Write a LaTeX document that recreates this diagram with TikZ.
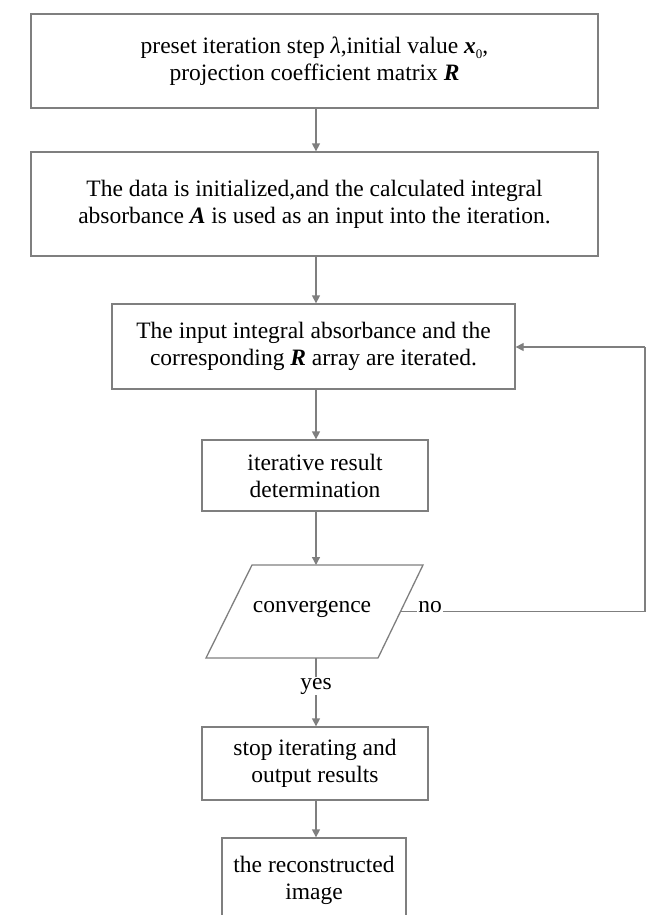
\documentclass[tikz,border=0pt]{standalone}
\usepackage{fontspec}
\setmainfont{Liberation Serif}
\usetikzlibrary{arrows.meta}
\definecolor{lc}{HTML}{7F7F7F}
\newcommand{\bi}[1]{\textbf{\textit{#1}}}
\begin{document}
\begin{tikzpicture}[x=1pt,y=-1pt,
  box/.style={draw=lc,line width=1.3pt,align=center,inner sep=0pt,font=\fontsize{23.5}{27}\selectfont},
  conn/.style={draw=lc,line width=1.3pt,-{Triangle[length=8pt,width=8pt]}},
  plain/.style={draw=lc,line width=1.3pt},
  lbl/.style={font=\fontsize{23.5}{27}\selectfont,inner sep=1pt}]
\useasboundingbox (0,0) rectangle (647,915);
\begin{scope}
\clip (0,0) rectangle (647,915);
\node[box,minimum width=567pt,minimum height=94pt] (b1) at (314.5,61)
  {preset iteration step \textit{λ},initial value \bi{x}\raisebox{-0.45ex}{\fontsize{13}{13}\selectfont 0},\\projection coefficient matrix \bi{R}};
\node[box,minimum width=567pt,minimum height=104pt] (b2) at (314.5,204)
  {The data is initialized,and the calculated integral\\absorbance \bi{A} is used as an input into the iteration.};
\node[box,minimum width=403pt,minimum height=85pt] (b3) at (313.5,346.5)
  {The input integral absorbance and the\\corresponding \bi{R} array are iterated.};
\node[box,minimum width=226pt,minimum height=71pt] (b4) at (315,475.5)
  {iterative result\\determination};
\coordinate (p1) at (252,565);
\coordinate (p2) at (423,565);
\coordinate (p3) at (378,658);
\coordinate (p4) at (206,658);
\draw[plain,line join=miter] (p1) -- (p2) -- (p3) -- (p4) -- cycle;
\node[lbl] (cv) at (312,609) {convergence};
\coordinate (pe) at (400.5,611.5);
\coordinate (ptop) at (316,565);
\coordinate (pbot) at (316,658);
\node[box,minimum width=226pt,minimum height=73pt] (b5) at (315,763.5)
  {stop iterating and\\output results};
\node[box,minimum width=184pt,minimum height=84pt] (b6) at (314,880)
  {the reconstructed\\image};
\node[lbl] (yes) at (316,686) {yes};
\node[lbl] (no) at (430,607) {no};
\coordinate (rc) at (645,611.5);
\coordinate (rt) at (645,347);
\draw[conn] (b1.south -| 316,0) -- (b2.north -| 316,0);
\draw[conn] (b2.south -| 316,0) -- (b3.north -| 316,0);
\draw[conn] (b3.south -| 316,0) -- (b4.north -| 316,0);
\draw[conn] (b4.south -| 316,0) -- (ptop);
\draw[plain] (pbot) -- (yes.north);
\draw[conn] (yes.south) -- (b5.north -| 316,0);
\draw[conn] (b5.south -| 316,0) -- (b6.north -| 316,0);
\draw[plain] (pe) -- (no.west |- pe);
\draw[plain] (no.east |- pe) -- (rc) -- (rt);
\draw[conn] (rt) -- (b3.east |- rt);
\end{scope}
\end{tikzpicture}
\end{document}
